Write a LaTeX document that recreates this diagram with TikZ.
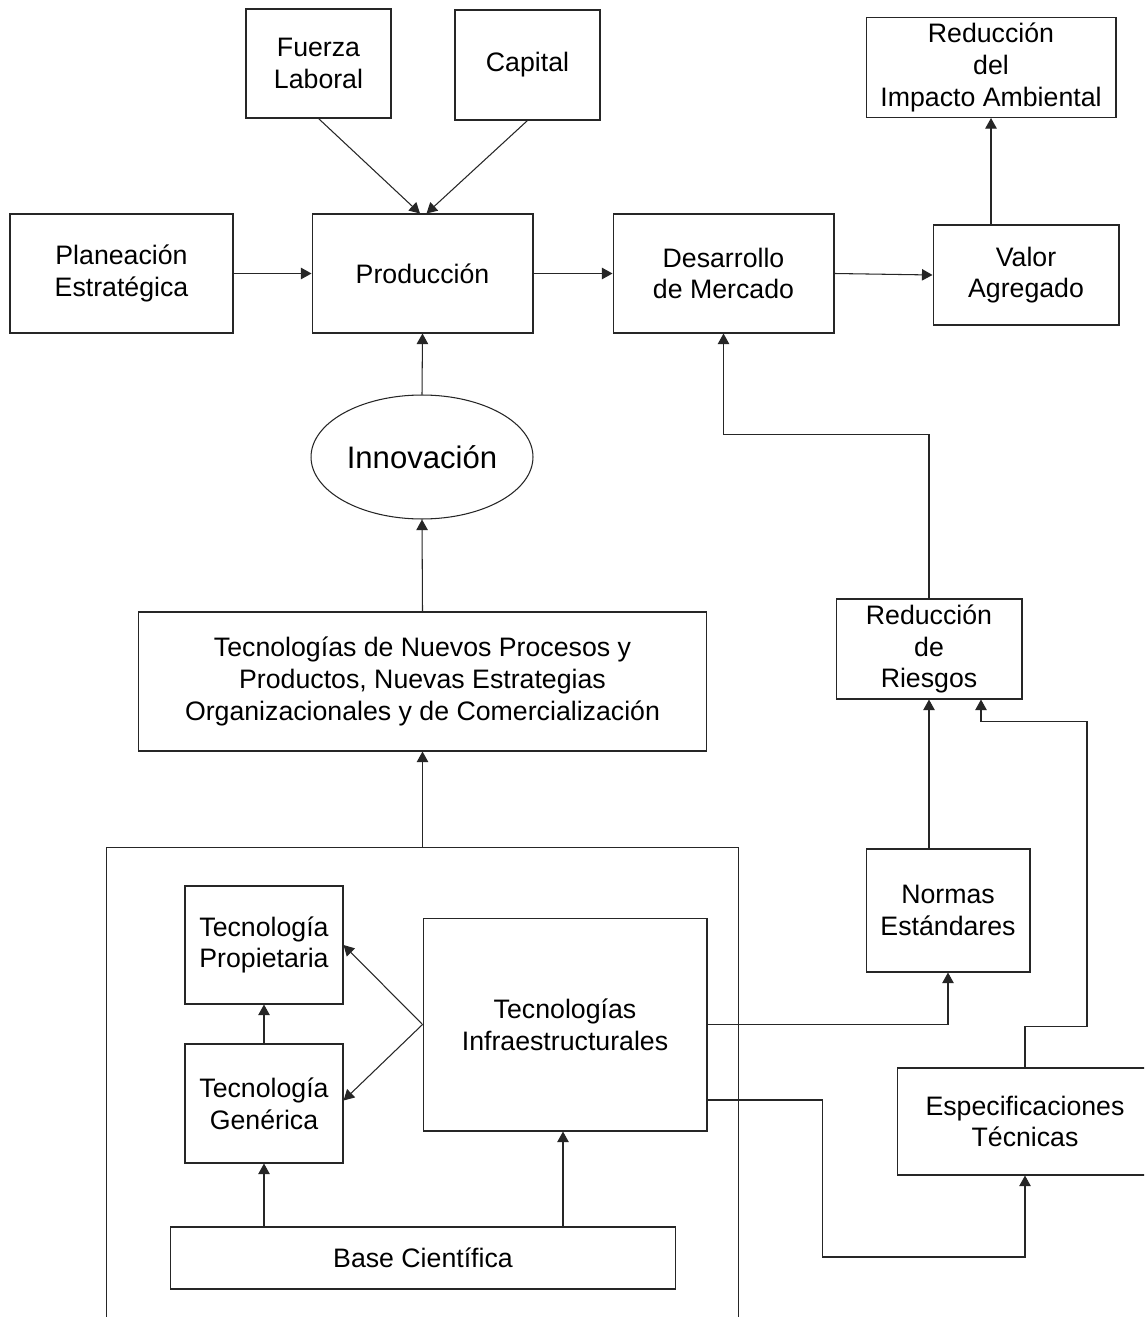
\documentclass[tikz,border=0pt]{standalone}
\usepackage{fontspec}
\setmainfont{Liberation Sans}
\usetikzlibrary{arrows.meta,shapes.geometric,calc}
\begin{document}
\begin{tikzpicture}[x=0.02cm,y=-0.02cm,
  every node/.style={font=\fontsize{15.2pt}{18.1pt}\selectfont},
  box/.style={draw=black!85,line width=0.6pt,fill=white,rectangle,align=center,inner sep=0pt},
  conn/.style={draw=black!85,line width=0.6pt,-{Triangle[length=6pt,width=6.5pt]}},
  plain/.style={draw=black!85,line width=0.6pt}]
\clip (0,0) rectangle (1144,1317);
\fill[white] (0,0) rectangle (1144,1317);

% outer frame around the technology base
\node[box,minimum width=12.66cm,minimum height=10cm] (outer) at (422.5,1097) {};

% top row
\node[box,minimum width=2.9cm,minimum height=2.18cm] (fuerza) at (318.5,63.5) {Fuerza\\Laboral};
\node[box,minimum width=2.9cm,minimum height=2.2cm] (capital) at (527.5,65) {Capital};
\node[box,minimum width=5cm,minimum height=2cm] (impacto) at (991,67.5) {Reducción\\del\\Impacto Ambiental};

% main chain
\node[box,minimum width=4.46cm,minimum height=2.38cm] (plan) at (121.5,273.5) {Planeación\\Estratégica};
\node[box,minimum width=4.42cm,minimum height=2.38cm] (prod) at (422.5,273.5) {Producción};
\node[box,minimum width=4.42cm,minimum height=2.38cm] (mercado) at (723.5,273.5) {Desarrollo\\de Mercado};
\node[box,minimum width=3.72cm,minimum height=2cm] (valor) at (1026,275) {Valor\\Agregado};

\node[draw=black!85,line width=0.6pt,ellipse,minimum width=4.44cm,minimum height=2.48cm,inner sep=0pt,
  font=\fontsize{17.7pt}{21pt}\selectfont] (innov) at (422,457) {Innovación};

\node[box,minimum width=11.38cm,minimum height=2.78cm] (nuevos) at (422.5,681.5)
  {Tecnologías de Nuevos Procesos y\\Productos, Nuevas Estrategias\\Organizacionales y de Comercialización};

\node[box,minimum width=3.72cm,minimum height=2cm] (riesgos) at (929,649) {Reducción\\de\\Riesgos};

% technology base
\node[box,minimum width=3.16cm,minimum height=2.36cm] (prop) at (264,945) {Tecnología\\Propietaria};
\node[box,minimum width=3.16cm,minimum height=2.38cm] (gen) at (264,1103.5) {Tecnología\\Genérica};
\node[box,minimum width=5.68cm,minimum height=4.26cm] (infra) at (565,1024.5) {Tecnologías\\Infraestructurales};
\node[box,minimum width=10.12cm,minimum height=1.24cm] (base) at (423,1258) {Base Científica};

\node[box,minimum width=3.28cm,minimum height=2.46cm] (normas) at (948,910.5) {Normas\\Estándares};
\node[box,minimum width=5.12cm,minimum height=2.14cm] (espec) at (1025,1121.5) {Especificaciones\\Técnicas};

% connectors
\draw[conn] (fuerza.south) -- ([xshift=-0.05cm]prod.north);
\draw[conn] (capital.south) -- ([xshift=0.08cm]prod.north);
\draw[conn] (plan.east) -- (prod.west);
\draw[conn] (prod.east) -- (mercado.west);
\draw[conn] (mercado.east) -- (valor.west);
\draw[conn] (impacto.south |- valor.north) -- (impacto.south);
\draw[conn] (innov.north) -- (prod.south);
\draw[conn] (nuevos.north) -- (innov.south);
\draw[conn] (outer.north) -- (nuevos.south);
\draw[conn] (riesgos.north) -- ++(0,-164) -| (mercado.south);
\draw[conn] (riesgos.south |- normas.north) -- (riesgos.south);
\draw[conn] (espec.north) -- ++(0,-41) -- ++(62,0) -- ++(0,-305) -| ([xshift=1.04cm]riesgos.south);
\draw[conn] (infra.east) -| (normas.south);
\draw[conn] ([yshift=-1.51cm]infra.east) -- ++(115,0) -- ++(0,157) -| (espec.south);
\draw[conn] (infra.west) -- (prop.east);
\draw[conn] (infra.west) -- ([yshift=0.06cm]gen.east);
\draw[conn] (gen.north) -- (prop.south);
\draw[conn] (gen.south |- base.north) -- (gen.south);
\draw[conn] ([xshift=-0.04cm]infra.south |- base.north) -- ([xshift=-0.04cm]infra.south);
\end{tikzpicture}
\end{document}
